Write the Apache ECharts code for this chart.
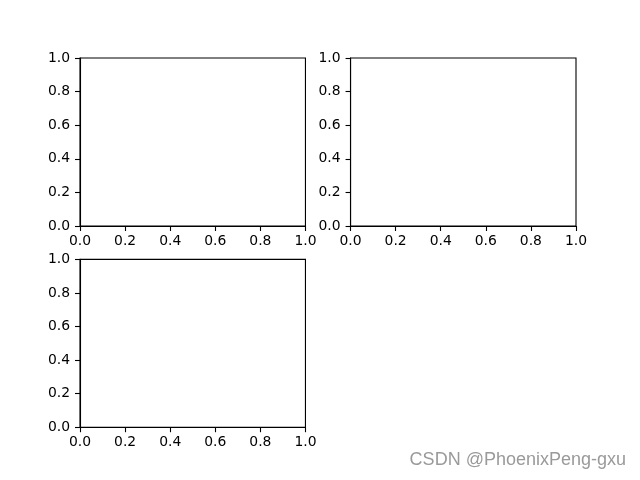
<!DOCTYPE html>
<html><head><meta charset="utf-8">
<script src="https://cdn.jsdelivr.net/npm/echarts@6/dist/echarts.min.js"></script>
<style>html,body{margin:0;padding:0;background:#fff}#c{width:640px;height:480px}</style>
</head><body><div id="c"></div>
<script>
const tickValues = [0.0, 0.2, 0.4, 0.6, 0.8, 1.0];
const axisMin = 0, axisMax = 1, axisStep = 0.2;
const panels = [
  {left: 80, top: 58, height: 168},
  {left: 350.55, top: 58, height: 168},
  {left: 80, top: 259.4, height: 167.8}
];
const panelW = 225.45;
const seriesData = [[], [], []];
const watermark = 'CSDN @PhoenixPeng-gxu';

const font = 'DejaVu Sans';
const fs = 13.9;
const grids = panels.map(p => ({left: p.left, top: p.top, width: panelW, height: p.height,
  show: true, borderColor: '#000', borderWidth: 1.1, backgroundColor: '#fff'}));
function mkAxis(i, isX) {
  return {
    type: 'value', gridIndex: i, min: axisMin, max: axisMax, interval: axisStep,
    axisLine: {show: true, onZero: false, lineStyle: {color: '#000', width: 1.1}},
    axisTick: {show: true, length: 5, lineStyle: {color: '#000', width: 1.1}},
    splitLine: {show: false},
    axisLabel: {show: true, color: '#000', fontFamily: font, fontSize: fs, margin: isX ? 8 : 10,
      formatter: v => v.toFixed(1), showMinLabel: true, showMaxLabel: true, hideOverlap: false}
  };
}
const option = {
  animation: false,
  backgroundColor: '#fff',
  grid: grids,
  xAxis: panels.map((p, i) => mkAxis(i, true)),
  yAxis: panels.map((p, i) => mkAxis(i, false)),
  series: seriesData.map((d, i) => ({type: 'line', xAxisIndex: i, yAxisIndex: i, data: d})),
  graphic: [{type: 'text', right: 14, top: 451,
    style: {text: watermark, fill: '#9a9a9a', font: '18px "Liberation Sans"'}}]
};
const chart = echarts.init(document.getElementById('c'), null, {renderer: 'canvas'});
chart.setOption(option);
</script></body></html>
